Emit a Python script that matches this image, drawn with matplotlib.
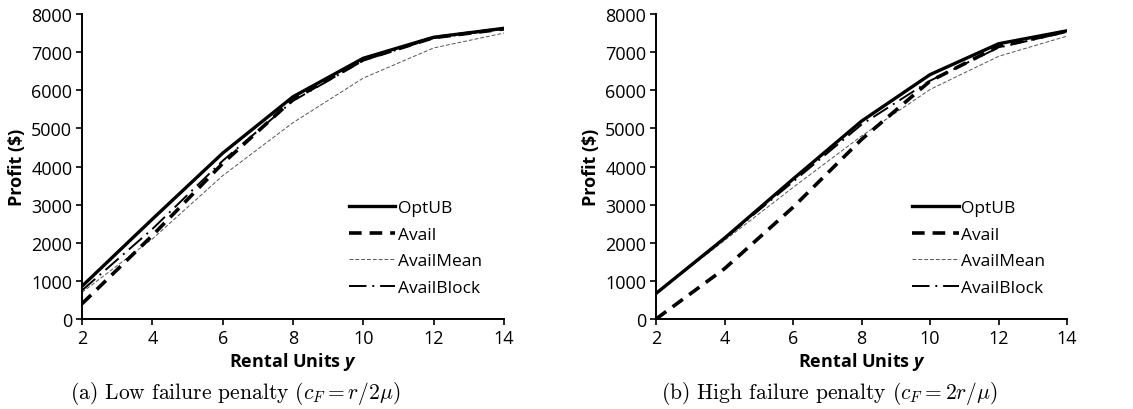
import matplotlib
matplotlib.use('Agg')
import matplotlib.pyplot as plt

plt.rcParams['font.family'] = ['Open Sans', 'DejaVu Sans']
plt.rcParams['mathtext.fontset'] = 'custom'
plt.rcParams['mathtext.bfit'] = 'Open Sans:bold:italic'

units = [2, 4, 6, 8, 10, 12, 14]

# (a) low failure penalty
low_optub = [860, 2620, 4350, 5830, 6840, 7390, 7625]
low_avail = [400, 2190, 4080, 5760, 6800, 7380, 7610]
low_mean = [700, 2100, 3760, 5150, 6320, 7110, 7500]
low_block = [750, 2360, 4150, 5720, 6780, 7370, 7610]

# (b) high failure penalty
high_optub = [670, 2120, 3670, 5190, 6410, 7220, 7560]
high_avail = [0, 1320, 2930, 4710, 6240, 7150, 7550]
high_mean = [670, 2060, 3450, 4800, 6020, 6890, 7420]
high_block = [670, 2100, 3600, 5100, 6250, 7120, 7530]

captions = [r'(a) Low failure penalty ($c_F = r/2\mu$)',
            r'(b) High failure penalty ($c_F = 2r/\mu$)']
caption_x = [0.208, 0.732]

fig = plt.figure(figsize=(11.33, 4.10), dpi=100)
ax1 = fig.add_axes([0.0724, 0.2195, 0.3724, 0.7439])
ax2 = fig.add_axes([0.579, 0.2195, 0.3628, 0.7439])

datasets = [(ax1, low_optub, low_avail, low_mean, low_block),
            (ax2, high_optub, high_avail, high_mean, high_block)]

for i, (ax, opt, av, mean, blk) in enumerate(datasets):
    ax.plot(units, mean, color='#555555', lw=0.7, ls=(0, (4, 2)), label='AvailMean')
    ax.plot(units, blk, color='black', lw=1.4, ls=(0, (9, 3, 1, 3)), label='AvailBlock')
    ax.plot(units, av, color='black', lw=2.6, ls=(0, (3.5, 2.2)), label='Avail')
    ax.plot(units, opt, color='black', lw=2.4, label='OptUB')
    ax.set_xlim(2, 14)
    ax.set_ylim(0, 8000)
    ax.set_xticks(units)
    ax.set_yticks(range(0, 8001, 1000))
    ax.tick_params(labelsize=13, length=4, width=1.2, direction='out', pad=3)
    for s in ['top', 'right']:
        ax.spines[s].set_visible(False)
    for s in ['left', 'bottom']:
        ax.spines[s].set_linewidth(1.4)
    ax.set_ylabel('Profit ($)', fontsize=13, fontweight='bold', labelpad=4)
    ax.set_xlabel(r'Rental Units $\mathbfit{y}$', fontsize=13, fontweight='bold', labelpad=2)
    h, l = ax.get_legend_handles_labels()
    order = [3, 2, 0, 1]
    ax.legend([h[k] for k in order], [l[k] for k in order], loc='lower right',
              bbox_to_anchor=(0.985, 0.025), frameon=False, fontsize=12.5,
              handlelength=2.7, handletextpad=0.15, labelspacing=0.6)
    fig.text(caption_x[i], 0.041, captions[i], ha='center', va='center',
             fontsize=15.5, family='cmr10', math_fontfamily='cm')

fig.savefig('out.png', dpi=100)
